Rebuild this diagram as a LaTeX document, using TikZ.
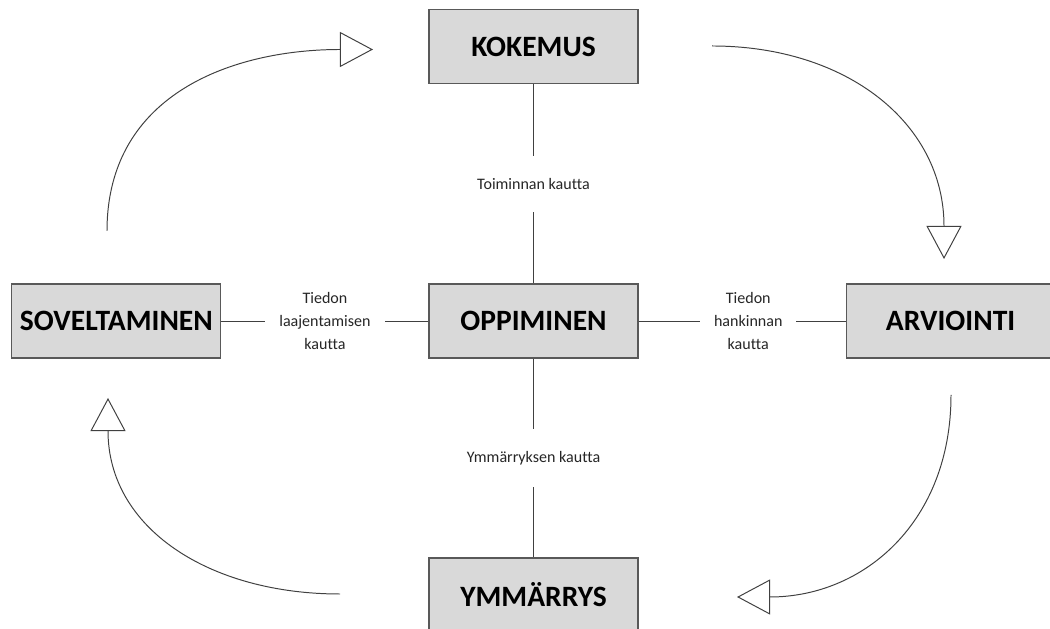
\documentclass[tikz,border=0pt]{standalone}
\usepackage{fontspec}
\setmainfont{Carlito}[Ligatures=CommonOff]
\usetikzlibrary{arrows.meta}
\definecolor{boxfill}{HTML}{D9D9D9}
\definecolor{boxline}{HTML}{595959}
\definecolor{linecol}{HTML}{404040}
\definecolor{lbltext}{HTML}{262626}

\begin{document}
\begin{tikzpicture}[x=0.025cm, y=0.025cm, node distance=6.85cm,
    box/.style={rectangle, draw=boxline, fill=boxfill, line width=0.8pt, minimum width=5.225cm, minimum height=1.85cm, inner sep=0pt, font=\fontsize{21}{25}\selectfont\bfseries},
    lbl/.style={fill=white, text=lbltext, align=center, inner xsep=0.35cm, inner ysep=0.55cm, font=\fontsize{11.4}{16.7}\selectfont},
    link/.style={draw=linecol, line width=0.7pt},
    kaari/.style={draw=linecol, line width=0.7pt, -{Triangle[open, length=0.825cm, width=0.875cm]}}]
    \useasboundingbox (0,0) rectangle (1050,629);

    \node[box] (oppi) at (533.5,308) {OPPIMINEN};
    \node[box, above of=oppi] (kok) {KOKEMUS};
    \node[box, below of=oppi] (ymm) {YMMÄRRYS};
    \node[box, left of=oppi, node distance=10.425cm] (sov) {SOVELTAMINEN};
    \node[box, right of=oppi, node distance=10.425cm] (arv) {ARVIOINTI};

    \draw[link] (kok) -- node[lbl] {Toiminnan kautta} (oppi);
    \draw[link] (sov) -- node[lbl] {Tiedon\\laajentamisen\\kautta} (oppi);
    \draw[link] (oppi) -- node[lbl, pos=0.53] {Tiedon\\hankinnan\\kautta} (arv);
    \draw[link] (oppi) -- node[lbl] {Ymmärryksen kautta} (ymm);

    \coordinate (k1) at (107,398);
    \coordinate (k2) at (373,579.5);
    \coordinate (k3) at (712,583);
    \coordinate (k4) at (944,370);
    \coordinate (k5) at (951,234);
    \coordinate (k6) at (737,32);
    \coordinate (k7) at (340,35);
    \coordinate (k8) at (108,231);
    \draw[kaari] (k1) to[out=90, in=180, looseness=1.1] (k2);
    \draw[kaari] (k3) to[out=0, in=90, looseness=1.1] (k4);
    \draw[kaari] (k5) to[out=-90, in=0, looseness=1.1] (k6);
    \draw[kaari] (k7) to[out=180, in=-90, looseness=1.1] (k8);
\end{tikzpicture}
\end{document}
